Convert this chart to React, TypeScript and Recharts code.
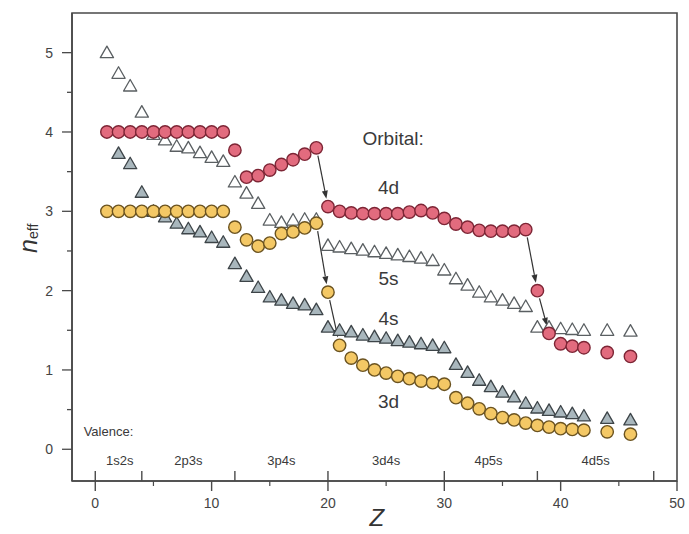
import React from "react";
import { ScatterChart, Scatter, XAxis, YAxis, ReferenceLine, ReferenceDot, ReferenceArea } from "recharts";

// atomic numbers (43 and 45 are missing in the figure)
const zMain = [
  1, 2, 3, 4, 5, 6, 7, 8, 9, 10, 11, 12, 13, 14, 15, 16, 17, 18, 19, 20, 21,
  22, 23, 24, 25, 26, 27, 28, 29, 30, 31, 32, 33, 34, 35, 36, 37, 38, 39, 40, 41, 42, 44, 46,
];
const z4s = zMain.slice(1);

const n4d = [
  4.0, 4.0, 4.0, 4.0, 4.0, 4.0, 4.0, 4.0, 4.0, 4.0, 4.0, 3.77, 3.43, 3.45, 3.52, 3.59, 3.65, 3.72, 3.8,
  3.06, 3.0, 2.98, 2.97, 2.97, 2.97, 2.97, 2.99, 3.01, 2.98, 2.91, 2.84, 2.8, 2.76, 2.75, 2.75, 2.75, 2.77,
  2.0, 1.46, 1.33, 1.3, 1.28, 1.22, 1.17,
];
const n3d = [
  3.0, 3.0, 3.0, 3.0, 3.0, 3.0, 3.0, 3.0, 3.0, 3.0, 3.0, 2.8, 2.64, 2.56, 2.6, 2.72, 2.74, 2.79, 2.85,
  1.98, 1.31, 1.15, 1.06, 1.0, 0.96, 0.92, 0.89, 0.86, 0.84, 0.82, 0.65, 0.58, 0.51, 0.45, 0.4, 0.37, 0.33,
  0.3, 0.28, 0.26, 0.25, 0.24, 0.22, 0.19,
];
const n5s = [
  5.0, 4.74, 4.58, 4.25, 3.97, 3.9, 3.82, 3.8, 3.74, 3.68, 3.63, 3.37, 3.23, 3.1, 2.89, 2.86, 2.89, 2.9, 2.9,
  2.57, 2.55, 2.53, 2.51, 2.49, 2.47, 2.45, 2.43, 2.41, 2.38, 2.26, 2.15, 2.07, 1.98, 1.92, 1.88, 1.84, 1.8,
  1.54, 1.54, 1.52, 1.51, 1.5, 1.5, 1.49,
];
const n4s = [
  3.73, 3.6, 3.24, 3.0, 2.93, 2.85, 2.78, 2.74, 2.67, 2.61, 2.34, 2.18, 2.04, 1.92, 1.88, 1.84, 1.82, 1.76,
  1.54, 1.5, 1.48, 1.44, 1.42, 1.4, 1.37, 1.35, 1.33, 1.31, 1.28, 1.07, 0.97, 0.87, 0.79, 0.72, 0.66, 0.58,
  0.52, 0.49, 0.47, 0.45, 0.42, 0.39, 0.37,
];

const orbitalLabels = [
  { text: "Orbital:", z: 25.6, n: 3.92 },
  { text: "4d", z: 25.2, n: 3.3 },
  { text: "5s", z: 25.2, n: 2.15 },
  { text: "4s", z: 25.2, n: 1.65 },
  { text: "3d", z: 25.2, n: 0.6 },
];
const valenceLabels = [
  { text: "1s2s", z: 2.1 },
  { text: "2p3s", z: 8.0 },
  { text: "3p4s", z: 16.0 },
  { text: "3d4s", z: 25.0 },
  { text: "4p5s", z: 33.8 },
  { text: "4d5s", z: 43.0 },
];
const valenceBounds = [0, 4, 12, 20, 30, 38, 48];
const xTicks = [0, 4, 5, 10, 12, 15, 20, 25, 30, 35, 38, 40, 45, 48, 50];
const yTicks = [0, 0.5, 1, 1.5, 2, 2.5, 3, 3.5, 4, 4.5, 5];

// arrows between consecutive points of a series
const arrows = [
  { series: "4d", from: 19, to: 20 },
  { series: "3d", from: 19, to: 20 },
  { series: "3d", from: 20, to: 21 },
  { series: "4d", from: 37, to: 38 },
  { series: "4d", from: 38, to: 39 },
];

const toPoints = (zs: number[], ns: number[]) => zs.map((z, i) => ({ z, n: ns[i] }));
const data4d = toPoints(zMain, n4d);
const data3d = toPoints(zMain, n3d);
const data5s = toPoints(zMain, n5s);
const data4s = toPoints(z4s, n4s);
const seriesMap: Record<string, { z: number; n: number }[]> = { "4d": data4d, "3d": data3d };
const findN = (s: string, z: number) => seriesMap[s].find((p) => p.z === z)!.n;

const FONT = "'Liberation Sans', Arial, Helvetica, sans-serif";
const AX = "#4a4a4a";

const circle = (fill: string, stroke: string) => (p: any) =>
  <circle cx={p.cx} cy={p.cy} r={6.2} fill={fill} stroke={stroke} strokeWidth={1.4} />;

const triangle = (fill: string, stroke: string) => (p: any) =>
  <polygon
    points={`${p.cx},${p.cy - 6.5} ${p.cx + 6.6},${p.cy + 5} ${p.cx - 6.6},${p.cy + 5}`}
    fill={fill}
    stroke={stroke}
    strokeWidth={1.3}
    strokeLinejoin="round"
  />;

const arrowShape = (p: any) => {
  const { x1, y1, x2, y2 } = p;
  const dx = x2 - x1, dy = y2 - y1;
  const len = Math.sqrt(dx * dx + dy * dy);
  const ux = dx / len, uy = dy / len;
  const sx = x1 + ux * 8, sy = y1 + uy * 8;
  const ex = x2 - ux * 8, ey = y2 - uy * 8;
  const hl = 8, hw = 3;
  const bx = ex - ux * hl, by = ey - uy * hl;
  return (
    <g>
      <line x1={sx} y1={sy} x2={bx} y2={by} stroke="#333" strokeWidth={1.2} />
      <polygon points={`${ex},${ey} ${bx - uy * hw},${by + ux * hw} ${bx + uy * hw},${by - ux * hw}`} fill="#333" />
    </g>
  );
};

const XTick = (props: any) => {
  const { x, y, payload } = props;
  const v = payload.value;
  const major = v % 10 === 0;
  const minor = v % 5 === 0 && !major;
  const up = valenceBounds.includes(v);
  return (
    <g>
      {major && <line x1={x} x2={x} y1={y} y2={y + 10} stroke={AX} strokeWidth={1.4} />}
      {minor && <line x1={x} x2={x} y1={y} y2={y + 5} stroke={AX} strokeWidth={1.2} />}
      {up && <line x1={x} x2={x} y1={y} y2={y - 10} stroke={AX} strokeWidth={1.4} />}
      {major && (
        <text x={x} y={y + 27} textAnchor="middle" fontSize={14} fill="#444" fontFamily={FONT}>
          {v}
        </text>
      )}
    </g>
  );
};

const YTick = (props: any) => {
  const { x, y, payload } = props;
  const v = payload.value;
  const major = Number.isInteger(v);
  return (
    <g>
      <line x1={x - (major ? 10 : 5)} x2={x} y1={y} y2={y} stroke={AX} strokeWidth={1.3} />
      {major && (
        <text x={x - 19} y={y + 5} textAnchor="end" fontSize={14} fill="#444" fontFamily={FONT}>
          {v}
        </text>
      )}
    </g>
  );
};

const textShape = (text: string, size: number, anchor: string = "middle") => (p: any) =>
  <text x={p.cx} y={p.cy} textAnchor={anchor} dominantBaseline="central" fontSize={size} fill="#3a3a3a" fontFamily={FONT}>
    {text}
  </text>;

const YTitle = (p: any) =>
  <text
    x={p.cx}
    y={p.cy}
    transform={`rotate(-90, ${p.cx}, ${p.cy})`}
    textAnchor="middle"
    dominantBaseline="central"
    fill="#333"
    fontFamily={FONT}
  >
    <tspan fontSize={25} fontStyle="italic">n</tspan>
    <tspan fontSize={14} dy={5}>eff</tspan>
  </text>;

const XTitle = (p: any) =>
  <text x={p.cx} y={p.cy} textAnchor="middle" dominantBaseline="central" fontSize={24} fontStyle="italic" fill="#333" fontFamily={FONT}>
    Z
  </text>;

export default function App() {
  return (
    <div style={{ width: 689, height: 534, background: "#fff" }}>
      <style>{"body{margin:0}"}</style>
      <ScatterChart width={689} height={534} margin={{ top: 13, right: 12, bottom: 0, left: 0 }}>
        <XAxis
          type="number"
          dataKey="z"
          domain={[-2, 50]}
          ticks={xTicks}
          interval={0}
          height={53}
          tickSize={0}
          tickMargin={0}
          tickLine={false}
          tick={<XTick />}
          axisLine={{ stroke: AX, strokeWidth: 1.6 }}
          allowDataOverflow
        />
        <YAxis
          type="number"
          dataKey="n"
          domain={[-0.4, 5.5]}
          ticks={yTicks}
          interval={0}
          width={72}
          tickSize={0}
          tickMargin={0}
          tickLine={false}
          tick={<YTick />}
          axisLine={{ stroke: AX, strokeWidth: 1.6 }}
          allowDataOverflow
        />
        <ReferenceArea x1={-2} x2={50} y1={-0.4} y2={5.5} fill="none" stroke={AX} strokeWidth={1.6} ifOverflow="visible" />
        <Scatter data={data5s} shape={triangle("#ffffff", "#5a5f62")} isAnimationActive={false} />
        <Scatter data={data4s} shape={triangle("#a9b7bd", "#3d4448")} isAnimationActive={false} />
        <Scatter data={data3d} shape={circle("#f4c865", "#6b5320")} isAnimationActive={false} />
        <Scatter data={data4d} shape={circle("#e26b7e", "#7d2535")} isAnimationActive={false} />
        {arrows.map((a, i) => (
          <ReferenceLine
            key={"ar" + i}
            segment={[
              { x: a.from, y: findN(a.series, a.from) },
              { x: a.to, y: findN(a.series, a.to) },
            ]}
            shape={arrowShape}
            ifOverflow="visible"
          />
        ))}
        {orbitalLabels.map((l) => (
          <ReferenceDot key={l.text} x={l.z} y={l.n} r={0} shape={textShape(l.text, 19)} ifOverflow="visible" />
        ))}
        <ReferenceDot x={-1.0} y={0.23} r={0} shape={textShape("Valence:", 13, "start")} ifOverflow="visible" />
        {valenceLabels.map((l) => (
          <ReferenceDot key={l.text} x={l.z} y={-0.14} r={0} shape={textShape(l.text, 13)} ifOverflow="visible" />
        ))}
        <ReferenceDot x={-5.8} y={2.66} r={0} shape={YTitle} ifOverflow="visible" />
        <ReferenceDot x={24.2} y={-0.86} r={0} shape={XTitle} ifOverflow="visible" />
      </ScatterChart>
    </div>
  );
}
